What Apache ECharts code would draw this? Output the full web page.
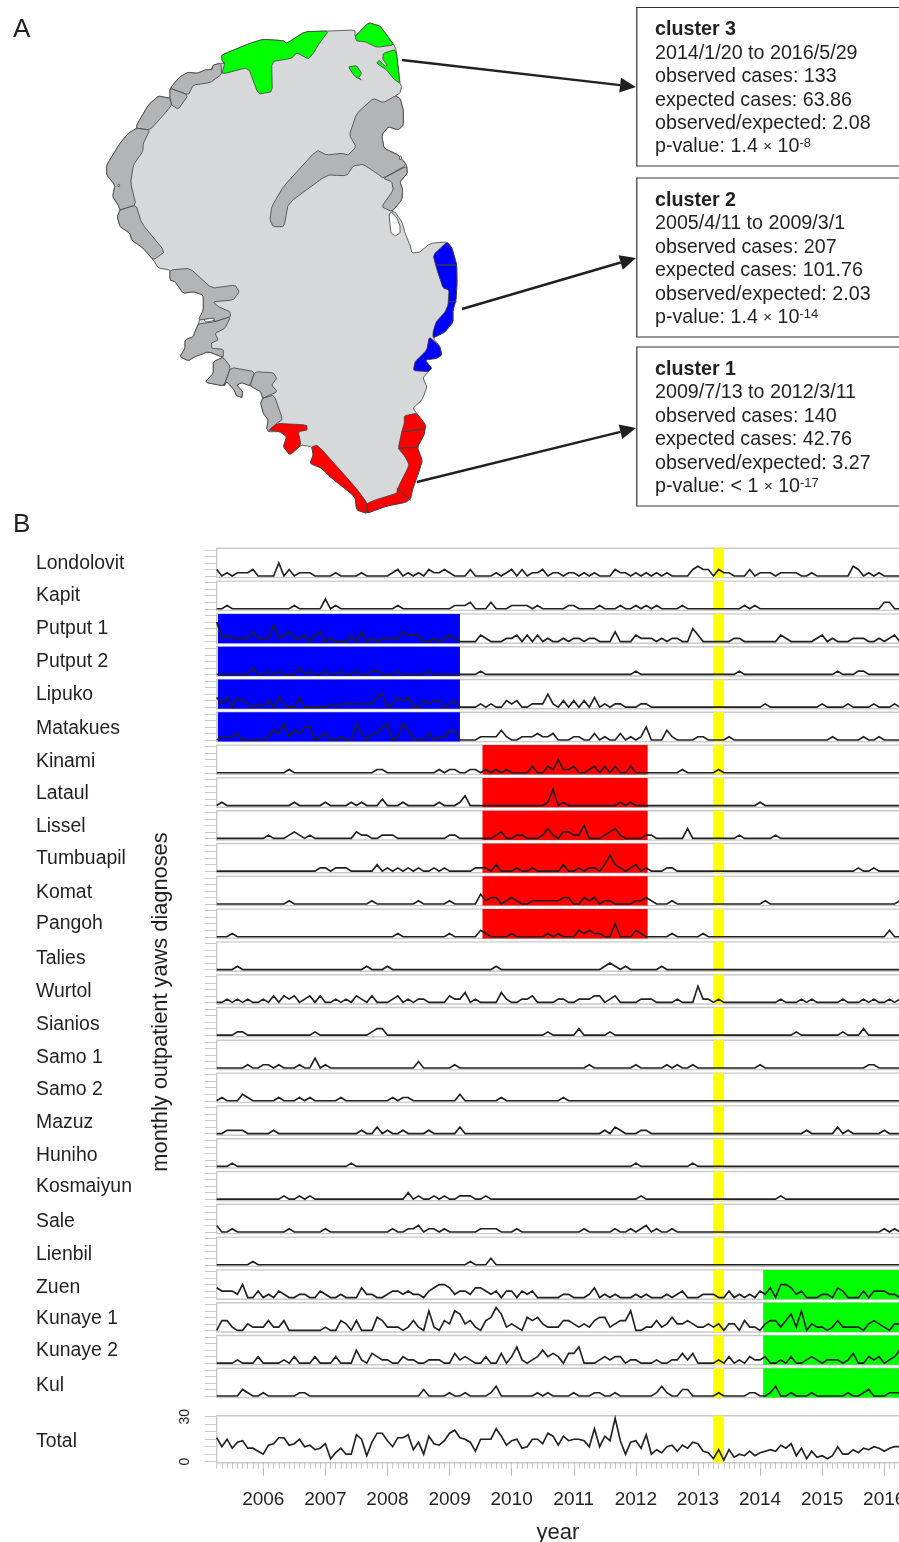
<!DOCTYPE html>
<html>
<head>
<meta charset="utf-8">
<title>Yaws clusters</title>
<script src="https://cdn.jsdelivr.net/npm/echarts@6/dist/echarts.min.js"></script>
<style>
  html, body { margin: 0; padding: 0; background: #fff; overflow: hidden; width: 899px; height: 1542px; }
  /* the figure runs past the right edge of the page, the panels get cut off there */
  #chart { width: 960px; height: 1542px; }
</style>
</head>
<body>
<div id="chart"></div>
<script>
// village names, top to bottom
var villages = ["Londolovit", "Kapit", "Putput 1", "Putput 2", "Lipuko", "Matakues", "Kinami", "Lataul", "Lissel", "Tumbuapil", "Komat", "Pangoh", "Talies", "Wurtol", "Sianios", "Samo 1", "Samo 2", "Mazuz", "Huniho", "Kosmaiyun", "Sale", "Lienbil", "Zuen", "Kunaye 1", "Kunaye 2", "Kul"];
var yearTicks = [2006, 2007, 2008, 2009, 2010, 2011, 2012, 2013, 2014, 2015, 2016];
var firstMonth = 2005.25;
var monthCount = 134;

// monthly diagnoses: [month index, cases], months left out are zero
var londolovit = [[0,2],[2,1],[4,1],[5,1],[6,1],[7,2],[12,4],[14,2],[16,1],[17,1],[18,1],[23,1],[28,1],[34,1],[35,2],[37,1],[39,1],[41,2],[42,1],[43,1],[44,2],[45,1],[49,2],[54,1],[56,1],[57,2],[59,2],[61,1],[62,1],[63,2],[65,1],[66,1],[68,1],[69,1],[71,1],[73,1],[77,2],[78,1],[79,1],[81,1],[83,1],[85,1],[87,1],[92,2],[93,3],[94,2],[95,2],[97,2],[98,1],[99,1],[103,2],[105,1],[106,1],[107,1],[109,1],[110,1],[111,1],[112,1],[115,1],[123,3],[124,2],[126,1],[128,1]];
var kapit = [[2,1],[15,1],[21,3],[23,1],[35,1],[46,1],[47,1],[48,1],[49,2],[53,2],[57,1],[58,1],[59,1],[60,1],[62,1],[68,1],[69,1],[74,1],[78,1],[81,1],[83,1],[85,1],[90,1],[102,1],[104,1],[129,2],[130,2]];
var putput1 = [[0,6],[1,1],[2,2],[3,1],[4,1],[5,1],[6,1],[7,3],[8,1],[9,1],[10,1],[11,5],[12,1],[13,2],[14,3],[15,1],[16,1],[17,2],[19,2],[20,3],[22,1],[26,2],[28,3],[30,1],[32,1],[33,1],[34,1],[35,1],[36,3],[37,2],[38,2],[39,2],[42,1],[44,1],[45,2],[46,1],[51,2],[52,1],[56,1],[57,1],[58,2],[60,2],[62,2],[64,1],[67,1],[69,1],[70,1],[72,1],[73,1],[77,3],[81,2],[82,1],[83,1],[84,1],[86,1],[88,1],[89,1],[92,4],[93,2],[100,1],[101,1],[109,2],[110,1],[116,1],[117,2],[119,1],[123,1],[124,1],[125,1],[128,1],[130,1],[131,2]];
var putput2 = [[7,2],[10,1],[12,1],[16,2],[18,1],[21,1],[24,1],[27,1],[30,1],[31,1],[35,1],[41,1],[51,1],[81,1],[101,1],[120,1],[124,1],[125,1]];
var lipuko = [[0,3],[1,1],[2,3],[4,3],[5,2],[6,1],[8,1],[10,2],[12,3],[13,1],[16,3],[22,1],[24,1],[25,1],[26,1],[27,1],[28,1],[29,1],[30,1],[31,3],[32,4],[34,1],[35,3],[36,2],[37,3],[40,2],[41,1],[42,2],[43,2],[45,1],[46,2],[51,1],[53,1],[56,2],[57,1],[58,2],[61,1],[62,1],[63,1],[64,4],[65,1],[67,2],[69,2],[71,2],[73,3],[75,1],[77,1],[78,1],[82,1],[83,1],[106,1],[117,1],[122,1],[127,1],[131,1]];
var matakues = [[1,1],[2,1],[3,1],[4,2],[10,1],[11,3],[12,2],[13,5],[14,1],[15,3],[16,2],[17,4],[18,4],[20,1],[21,2],[24,1],[27,5],[28,2],[30,2],[31,2],[32,4],[33,5],[35,1],[36,5],[37,3],[41,2],[43,1],[44,1],[45,3],[46,3],[51,1],[52,1],[53,1],[54,1],[55,3],[56,1],[59,1],[60,1],[61,1],[62,2],[63,1],[64,1],[65,2],[69,1],[70,1],[73,2],[75,1],[78,2],[80,1],[82,1],[83,4],[87,3],[88,1],[93,1],[94,1],[99,1],[119,1],[125,1],[128,1]];
var kinami = [[14,1],[31,1],[32,1],[43,1],[45,1],[46,1],[49,1],[50,1],[52,1],[54,1],[56,1],[61,2],[64,2],[65,1],[66,4],[67,1],[68,1],[69,2],[72,1],[73,2],[75,2],[77,2],[80,2],[90,1],[97,1]];
var lataul = [[1,1],[15,1],[21,1],[26,1],[28,1],[32,2],[36,1],[43,1],[47,1],[48,3],[64,1],[65,5],[67,1],[78,1],[80,1],[105,1]];
var lissel = [[10,1],[14,1],[15,2],[16,1],[18,1],[27,2],[28,1],[29,1],[32,1],[33,1],[34,1],[45,1],[46,1],[54,1],[55,2],[58,1],[59,1],[63,1],[64,3],[65,1],[67,2],[68,2],[69,1],[70,1],[71,4],[75,1],[76,2],[77,3],[78,1],[83,1],[84,1],[91,3],[101,1],[108,1]];
var tumbuapil = [[20,1],[21,1],[23,1],[24,1],[25,1],[31,2],[33,1],[35,1],[37,1],[39,1],[42,1],[44,1],[50,1],[51,1],[52,1],[54,2],[58,1],[61,1],[67,2],[70,1],[72,1],[73,1],[75,2],[76,5],[77,2],[78,1],[80,1],[81,2],[83,1],[87,1],[88,1],[124,1],[127,1]];
var komat = [[14,1],[30,1],[39,1],[45,1],[51,3],[52,1],[53,2],[54,2],[56,1],[57,2],[58,1],[61,1],[62,1],[63,1],[64,1],[65,1],[66,1],[67,2],[68,2],[71,2],[72,1],[73,2],[75,1],[76,1],[81,1],[82,1],[83,2],[84,1],[88,1],[106,1],[132,1],[133,1]];
var pangoh = [[3,1],[35,1],[45,1],[51,2],[52,1],[57,1],[64,1],[66,1],[70,2],[71,1],[72,2],[73,1],[74,1],[77,4],[81,2],[82,1],[88,1],[94,1],[130,2]];
var talies = [[4,1],[29,1],[33,1],[54,1],[75,1],[76,2],[77,1],[79,1],[86,1]];
var wurtol = [[2,1],[4,1],[6,1],[9,1],[11,2],[13,2],[14,1],[15,2],[17,1],[18,2],[20,2],[23,1],[25,1],[27,2],[28,1],[30,2],[34,1],[35,2],[37,1],[39,1],[40,1],[45,2],[46,1],[47,1],[48,3],[50,1],[55,3],[56,1],[59,1],[60,1],[61,2],[66,1],[67,1],[70,1],[71,1],[72,1],[73,2],[74,2],[76,1],[77,2],[82,1],[83,1],[84,1],[89,1],[93,5],[94,1],[95,1],[97,1],[109,1],[113,1],[115,1],[121,1],[125,1],[127,1],[130,1],[132,1]];
var sianios = [[4,1],[5,1],[19,1],[30,1],[31,2],[32,2],[64,1],[70,2],[76,1],[112,1],[121,1],[125,2]];
var samo1 = [[6,1],[9,1],[10,1],[12,1],[16,1],[19,3],[21,1],[39,2],[46,1],[72,1],[81,1],[87,1],[89,1],[92,1],[105,1],[126,1],[127,1]];
var samo2 = [[1,1],[5,2],[6,1],[12,1],[16,1],[18,1],[24,1],[34,1],[36,1],[37,1],[47,2],[55,1],[67,1]];
var mazuz = [[2,1],[3,1],[4,1],[5,1],[11,1],[28,1],[31,2],[33,1],[36,1],[41,1],[47,2],[75,1],[77,2],[78,1],[82,1],[83,1],[114,1],[120,2],[122,1],[129,1]];
var huniho = [[3,1],[26,1],[81,1],[92,1]];
var kosmaiyun = [[13,1],[16,1],[18,1],[37,2],[39,1],[42,1],[44,1],[47,1],[48,1],[49,1],[52,1],[82,1],[109,1]];
var sale = [[0,2],[3,1],[14,1],[21,1],[34,1],[37,1],[38,1],[39,2],[41,1],[42,1],[44,1],[51,1],[52,1],[53,1],[54,1],[58,1],[71,1],[77,1],[80,1],[82,1],[83,2],[85,1],[88,1],[129,1],[131,1]];
var lienbil = [[7,1],[49,1],[53,2]];
var zuen = [[0,3],[1,2],[2,2],[3,2],[4,1],[5,4],[8,2],[10,1],[12,2],[13,1],[16,1],[17,1],[20,2],[21,1],[24,1],[28,3],[29,1],[30,1],[33,1],[34,2],[35,2],[36,1],[37,2],[38,1],[39,1],[41,2],[42,3],[43,4],[44,4],[45,3],[46,1],[47,2],[48,2],[49,1],[50,3],[51,3],[52,2],[53,1],[54,2],[56,2],[57,2],[59,2],[60,1],[61,2],[67,1],[68,1],[72,1],[73,3],[75,1],[77,1],[81,1],[83,1],[87,1],[89,1],[90,2],[94,1],[95,1],[96,1],[99,2],[101,1],[103,1],[105,2],[106,1],[107,3],[109,4],[110,4],[111,3],[112,1],[113,2],[117,1],[118,1],[120,3],[121,2],[125,2],[127,2],[128,2],[129,2],[130,1],[131,1]];
var kunaye1 = [[1,3],[2,3],[3,1],[6,2],[7,1],[8,1],[9,1],[10,3],[11,1],[12,1],[13,3],[21,1],[24,3],[25,2],[27,3],[31,4],[32,3],[33,1],[34,1],[35,1],[37,1],[38,3],[39,1],[41,6],[42,1],[44,3],[45,2],[46,6],[47,5],[48,2],[49,3],[50,1],[52,3],[53,4],[54,7],[55,5],[56,1],[57,2],[58,1],[60,4],[61,3],[62,4],[63,2],[64,1],[65,1],[66,1],[67,3],[68,3],[69,2],[70,1],[71,2],[72,1],[73,3],[74,4],[75,4],[76,1],[77,2],[78,3],[79,3],[80,6],[83,1],[84,1],[85,3],[86,1],[87,2],[88,4],[89,2],[90,2],[91,3],[92,2],[93,1],[94,1],[95,2],[96,1],[97,2],[99,2],[100,2],[102,3],[103,1],[104,1],[106,2],[107,3],[108,3],[109,1],[110,3],[111,5],[112,1],[113,6],[115,2],[116,1],[117,1],[119,1],[120,3],[121,1],[122,1],[123,1],[124,1],[126,2],[127,3],[128,2],[129,1],[131,2],[132,2],[133,2]];
var kunaye2 = [[4,1],[8,2],[13,1],[15,2],[19,2],[23,2],[27,4],[28,1],[30,3],[31,2],[32,1],[33,1],[36,2],[37,1],[38,1],[41,1],[42,1],[43,1],[46,3],[47,1],[48,2],[49,1],[52,2],[55,3],[57,2],[58,5],[59,1],[61,1],[62,2],[63,4],[64,2],[65,3],[66,2],[68,3],[69,3],[70,5],[74,1],[75,2],[76,1],[77,2],[78,2],[80,1],[81,1],[85,1],[88,1],[89,1],[90,3],[91,1],[92,3],[97,1],[99,2],[101,1],[103,2],[104,1],[105,1],[106,2],[109,1],[111,2],[114,1],[115,2],[116,1],[118,1],[119,1],[120,1],[122,1],[123,3],[126,2],[127,1],[128,2],[130,1],[131,2],[132,4],[133,4]];
var kul = [[5,2],[6,1],[9,1],[16,1],[17,1],[40,2],[45,1],[48,1],[53,1],[54,3],[62,1],[64,1],[69,1],[73,1],[74,1],[77,1],[85,1],[86,3],[87,1],[90,2],[91,2],[97,1],[103,1],[104,1],[107,1],[108,3],[111,1],[115,1],[122,1],[125,1],[126,2],[130,1],[131,1],[132,1],[133,1]];
var totalCases = [16,10,15,9,13,14,9,9,7,5,11,12,16,16,11,12,15,10,11,8,9,12,2,6,9,5,5,18,15,4,13,19,19,14,10,16,16,18,8,13,5,17,12,11,14,19,21,16,15,13,7,15,15,15,22,17,11,14,15,9,10,15,15,12,19,17,11,17,14,15,15,14,10,22,10,17,14,29,14,5,13,14,9,18,5,8,6,10,11,7,11,9,13,12,7,6,2,8,1,8,3,5,4,7,4,6,7,8,7,11,9,12,4,9,2,7,3,4,2,4,10,5,5,8,6,9,8,10,9,7,9,10,10,10];
var villageCases = [londolovit, kapit, putput1, putput2, lipuko, matakues, kinami, lataul, lissel, tumbuapil, komat, pangoh, talies, wurtol, sianios, samo1, samo2, mazuz, huniho, kosmaiyun, sale, lienbil, zuen, kunaye1, kunaye2, kul];

// cluster windows in decimal years
var cluster1Window = [2009.53, 2012.19];
var cluster2Window = [2005.27, 2009.167];
var cluster3Window = [2014.05, 2016.41];
var yellowWindow = [2013.246, 2013.42];

// cluster boxes text
var box3Lines = ["{b|cluster 3}", "2014/1/20 to 2016/5/29", "observed cases: 133", "expected cases: 63.86", "observed/expected: 2.08", "p-value: 1.4 {x|\u00d7} 10{sup|-8}"];
var box2Lines = ["{b|cluster 2}", "2005/4/11 to 2009/3/1", "observed cases: 207", "expected cases: 101.76", "observed/expected: 2.03", "p-value: 1.4 {x|\u00d7} 10{sup|-14}"];
var box1Lines = ["{b|cluster 1}", "2009/7/13 to 2012/3/11", "observed cases: 140", "expected cases: 42.76", "observed/expected: 3.27", "p-value: < 1 {x|\u00d7} 10{sup|-17}"];

// map outlines, traced in page pixels
var island = [[221.7,55],[250,43.3],[263.3,39.3],[283.3,40.7],[286.7,43.3],[305,31.7],[328.7,31],[355,30],[355,36.7],[368.3,22.7],[380,26],[386.7,35],[394,45],[396,49.3],[400,83.3],[401.7,86.7],[400,93],[395,96],[400,98.3],[403.3,110],[403.3,125],[398.3,130],[388.3,126.7],[381.7,135],[384,148.3],[398.3,155],[406.7,165],[407.3,173.3],[400,181.7],[402.7,190],[401.7,200],[391.7,211.7],[395,212],[402,222],[405,233],[410,245],[412,253],[420,252],[428,245],[433,243],[447,242],[452,248],[456.7,265],[457,283],[456,300],[453,310],[453,322],[445,332],[433,338],[440,346.7],[441.7,355],[436.7,358.3],[425,360],[431.7,368.3],[428.3,371.7],[423,378],[427,387],[422,400],[413,408],[416.7,413.3],[425.7,425],[424,435],[417.3,447.3],[422.3,460.7],[418.3,473.3],[412.3,490],[410.7,498.3],[405.7,502.3],[386.7,506],[366.7,513.3],[356.7,510],[355,496.7],[330,476.7],[321.7,468.3],[310,463.3],[313.3,455],[311.7,446.7],[301,445],[290,455],[283.3,446.7],[286.7,436.7],[280,431.7],[268.7,431.7],[266.7,428.3],[268.3,420],[263.3,413.3],[260.7,403.3],[262.7,398.3],[260.7,391.7],[250,385.7],[241.7,382.7],[236.7,385],[242.7,391.7],[241.7,398.3],[235.7,395],[234.3,390],[226.7,381.7],[224,386],[205,382.3],[213.3,373.3],[213.3,361.7],[223.3,357.3],[208.3,351.7],[195,356.7],[188.3,360.7],[180,356.7],[185,348.3],[185,340],[193.3,336.7],[195,331.7],[198.3,324],[203.3,310],[203.3,295],[193.3,291.7],[183.3,293.3],[175,281.7],[170,280],[170,270],[158.3,268],[153.3,260],[143.3,248.3],[131.7,240],[130,233.3],[120,226.7],[117.3,216.7],[120,210],[118.3,205],[112.7,196.7],[115,185],[106.7,175],[106.7,165],[120,143.3],[128.3,133.3],[136.7,128.3],[136.7,125],[148.3,105],[158.3,96],[170,98.3],[170,88.3],[180,76.7],[188.3,72.3],[197.3,73.3],[205,70],[211.7,70],[213.3,65],[221,63.3],[224.7,63.3],[221.7,60]];
var forests = [
  [[221,63.3],[213.3,65],[211.7,70],[205,70],[197.3,73.3],[188.3,72.3],[180,76.7],[170,88.3],[188.3,95],[193.3,85],[210,82.7],[221.7,74.3]],
  [[170,88.3],[188.3,95],[178.3,109.3],[171.7,105],[170,98.3]],
  [[170,98.3],[158.3,96],[148.3,105],[136.7,125],[136.7,128.3],[150,130],[165,113.3],[171.7,105]],
  [[136.7,128.3],[150,130],[143.3,143.3],[142.7,151.7],[133.3,165],[130.7,183.3],[136,205],[120,210],[118.3,205],[112.7,196.7],[115,185],[106.7,175],[106.7,165],[120,143.3],[128.3,133.3]],
  [[120,210],[136,205],[141.7,223.3],[165,251.7],[153.3,260],[143.3,248.3],[131.7,240],[130,233.3],[120,226.7],[117.3,216.7]],
  [[170,270],[190,268.3],[211.7,288.3],[235,285],[239.3,291.7],[233.3,300],[213.3,301.7],[218.3,306.7],[230,311.7],[230.7,316.7],[215,321.7],[213.3,318.3],[198.3,320],[203.3,310],[203.3,295],[193.3,291.7],[183.3,293.3],[175,281.7],[170,280]],
  [[215,321.7],[230.7,316.7],[225,328.3],[215,333.3],[218.3,340],[210.7,343.3],[211.7,348.3],[223.3,349.3],[223.3,357.3],[208.3,351.7],[195,356.7],[188.3,360.7],[180,356.7],[185,348.3],[185,340],[193.3,336.7],[195,331.7],[198.3,324]],
  [[223.3,357.3],[230.7,367.3],[224,386],[205,382.3],[213.3,373.3],[213.3,361.7]],
  [[230.7,367.3],[255,371.7],[250,385.7],[241.7,382.7],[236.7,385],[242.7,391.7],[241.7,398.3],[235.7,395],[234.3,390],[226.7,381.7],[224,386]],
  [[255,371.7],[273.3,372.7],[276.7,378.3],[271.7,385],[277.3,391.7],[262.7,398.3],[260.7,391.7],[250,385.7]],
  [[262.7,398.3],[274,395],[282.7,419.3],[276.7,423.3],[268.7,431.7],[266.7,428.3],[268.3,420],[263.3,413.3],[260.7,403.3]],
  [[373.3,98.3],[383.3,102.7],[395,96],[400,98.3],[403.3,110],[403.3,125],[398.3,130],[388.3,126.7],[381.7,135],[384,148.3],[398.3,155],[406.7,165],[383.3,178.3],[376.7,173.3],[363.3,164.3],[353.3,166],[346.7,175.7],[326.7,175],[288.3,203.3],[284,226.7],[273.3,226.7],[270,220],[271.7,206.7],[283.3,186.7],[316.7,150],[326.7,155],[341.7,153.3],[348.3,155],[356,146.7],[349.3,135],[356.7,113.3]],
  [[383.3,178.3],[406.7,166],[407.3,173.3],[400,181.7],[402.7,190],[401.7,200],[391.7,211.7],[381.7,206.7],[393.3,190],[391.7,181.7]]
];
var greenAreas = [
  [[221.7,55],[250,43.3],[263.3,39.3],[283.3,40.7],[286.7,43.3],[305,31.7],[328.7,31],[319.3,43.3],[313.3,53.3],[308.3,59],[296.7,52.7],[291.7,58.3],[271.7,61.7],[272.3,91.7],[258.3,94.3],[248.3,67.3],[221.7,74.3],[224.7,63.3],[221.7,60]],
  [[355,36.7],[368.3,22.7],[380,26],[386.7,35],[394,45],[376.7,47.3],[365,41.7],[356.7,41]],
  [[383.3,53.3],[396,49.3],[400,83.3],[394,79.3],[386.7,70],[376.7,63.3],[379.3,60],[385,66],[387.7,65],[382.7,59.3]],
  [[348.3,66.7],[356.7,65.7],[361.7,73.3],[358.3,78.3],[361.7,80],[355,76.7]]
];
var blueAreas = [
  [[433,255],[447,242],[452,248],[456.7,265],[457,283],[456,300],[453,310],[453,322],[445,332],[433,338],[433,332],[436,322],[445,312],[448,305],[449,290],[443,288],[437,270]],
  [[429.3,336.7],[440,346.7],[441.7,355],[436.7,358.3],[425,360],[431.7,368.3],[428.3,371.7],[413.3,370.7],[415,361.7],[426.7,350]]
];
var redAreas = [
  [[404.3,415.7],[416.7,413.3],[425.7,425],[424,435],[417.3,447.3],[422.3,460.7],[418.3,473.3],[412.3,490],[410.7,498.3],[405.7,502.3],[386.7,506],[366.7,513.3],[367.3,503.3],[375,500],[396.7,493.3],[397.7,488.3],[409.3,465],[405,456.7],[398.3,448.3],[401.7,431.7],[404.3,423.3]],
  [[311.7,446.7],[317.7,445],[355,486.7],[367.3,503.3],[366.7,513.3],[356.7,510],[355,496.7],[330,476.7],[321.7,468.3],[310,463.3],[313.3,455]],
  [[268.7,430],[277.3,423.3],[306.7,425],[307.3,430],[298.3,431.7],[301,445],[290,455],[283.3,446.7],[286.7,436.7],[280,431.7]]
];
var dividers = [
  [[403,431.7],[425,429]], [[398.3,448.3],[417.3,447.3]], [[396.7,488.3],[410.7,500]], [[367.3,503.3],[367,513]],
  [[436.7,265],[456.7,265]], [[448.5,301.7],[456.5,301.7]]
];
var inlets = [
  [[389,214],[392,212],[397,218],[400,226],[400,233],[395,236],[391,233],[390,224]],
  [[400,156],[402,157],[400.5,160],[399,159]],
  [[118.5,184],[120,185],[119,187],[117.5,186]],
  [[204,319.5],[214,318],[214,321],[206,322]]
];

var INK = "#231f20";
var AXIS_GREY = "#cacaca";
var PANEL_LEFT = 216.7;
var PANEL_WIDTH = 698.6;
var X_MIN = 2005.25;
var X_MAX = 2016.5;

var monthX = [];
for (var m = 0; m < monthCount; m++) {
  monthX.push(firstMonth + m / 12);
}

function fullSeries(pairs) {
  var out = monthX.map(function() { return 0; });
  pairs.forEach(function(p) { out[p[0]] = p[1]; });
  return out;
}

function band(win, color) {
  return [{ xAxis: win[0], itemStyle: { color: color, opacity: 1 } }, { xAxis: win[1] }];
}

var grids = [], xAxes = [], yAxes = [], series = [];

function addPanel(name, values, top, height, yMin, yMax, ticks, bands, isTotal) {
  var idx = grids.length;
  grids.push({
    left: PANEL_LEFT, top: top, width: PANEL_WIDTH, height: height,
    show: true, borderColor: AXIS_GREY, borderWidth: 1.4, backgroundColor: "transparent"
  });
  xAxes.push({
    type: "value", gridIndex: idx, min: X_MIN, max: X_MAX, position: "bottom",
    axisLine: { show: false, onZero: false },
    splitLine: { show: false },
    axisTick: isTotal ? { show: true, length: 13, customValues: yearTicks, lineStyle: { color: "#b8b8b8", width: 1 } } : { show: false },
    axisLabel: isTotal ? { show: true, customValues: yearTicks, margin: 28, fontFamily: "Liberation Sans", fontSize: 19, color: INK, formatter: function(v) { return String(v); } } : { show: false }
  });
  yAxes.push({
    type: "value", gridIndex: idx, min: yMin, max: yMax,
    axisLine: { show: false, onZero: false },
    splitLine: { show: false },
    axisTick: { show: true, length: 12, customValues: ticks, lineStyle: { color: AXIS_GREY, width: 1 } },
    axisLabel: isTotal ? { show: true, customValues: [0, 30], rotate: 90, margin: 25, fontFamily: "Liberation Sans", fontSize: 14, color: INK } : { show: false }
  });
  series.push({
    type: "line", name: name, xAxisIndex: idx, yAxisIndex: idx,
    data: values.map(function(v, i) { return [monthX[i], v]; }),
    showSymbol: false, silent: true, animation: false,
    lineStyle: { color: INK, width: 1.65, join: "miter" },
    markArea: { silent: true, animation: false, data: bands }
  });
}

villages.forEach(function(name, i) {
  var bands = [band(yellowWindow, "#ffff00")];
  if (i >= 2 && i <= 5) bands.push(band(cluster2Window, "#0000ff"));
  if (i >= 6 && i <= 11) bands.push(band(cluster1Window, "#ff0000"));
  if (i >= 22) bands.push(band(cluster3Window, "#00ff00"));
  addPanel(name, fullSeries(villageCases[i]), 548.3 + 32.8 * i, 29.3, -0.5, 8.5, [0, 2, 4, 6, 8], bands, false);
});
addPanel("Total", totalCases, 1415.7, 47, -0.67, 30.67, [0, 5, 10, 15, 20, 25, 30], [band(yellowWindow, "#ffff00")], true);

// monthly small ticks under the total panel
xAxes.push({
  type: "value", gridIndex: grids.length - 1, min: X_MIN, max: X_MAX, position: "bottom",
  axisLine: { show: false, onZero: false }, splitLine: { show: false },
  axisTick: { show: true, length: 6, customValues: monthX, lineStyle: { color: "#c8c8c8", width: 1 } },
  axisLabel: { show: false }
});

// one pass of corner cutting, the coast is not as angular as the traced points
function soften(ring) {
  var out = [];
  ring.forEach(function(p, i) {
    var q = ring[(i + 1) % ring.length];
    out.push([p[0] * 0.88 + q[0] * 0.12, p[1] * 0.88 + q[1] * 0.12]);
    out.push([p[0] * 0.12 + q[0] * 0.88, p[1] * 0.12 + q[1] * 0.88]);
  });
  return out;
}

// map regions, y is flipped because geoJSON latitude points up
function feature(name, ring) {
  var coords = ring.map(function(p) { return [p[0], -p[1]]; });
  coords.push(coords[0]);
  return { type: "Feature", properties: { name: name }, geometry: { type: "Polygon", coordinates: [coords] } };
}
var features = [], regions = [];
function addRegions(prefix, rings, color, smooth) {
  rings.forEach(function(ring, i) {
    var name = prefix + i;
    features.push(feature(name, smooth ? soften(ring) : ring));
    regions.push({ name: name, itemStyle: { areaColor: color, borderColor: "#404040", borderWidth: 0.8 } });
  });
}
addRegions("island", [island], "#d7d8da", true);
addRegions("forest", forests, "#b3b4b6", true);
addRegions("green", greenAreas, "#00ff00", true);
addRegions("blue", blueAreas, "#0000ff", true);
addRegions("red", redAreas, "#ff0000", true);
addRegions("inlet", inlets, "#ffffff", true);
addRegions("divider", dividers, "#333333", false);
echarts.registerMap("island", { type: "FeatureCollection", features: features });

// page texts and cluster boxes
var graphics = [];
function addText(text, x, y, size) {
  graphics.push({
    type: "text", x: x, y: y, silent: true,
    style: { text: text, fontFamily: "Liberation Sans", fontSize: size, fill: INK, verticalAlign: "middle" }
  });
}
addText("A", 13, 30, 26);
addText("B", 13, 525, 26);

var labelY = [564, 596, 629, 662, 695, 729, 762, 794, 827, 859, 893, 924, 959, 992, 1025, 1058, 1090, 1123, 1156, 1187, 1222, 1255, 1288, 1319, 1351, 1386];
villages.forEach(function(name, i) {
  addText(name, 36, labelY[i], 19.4);
});
addText("Total", 36, 1442, 19.4);
graphics.push({
  type: "text", x: 558, y: 1533, silent: true,
  style: { text: "year", fontFamily: "Liberation Sans", fontSize: 22, fill: INK, align: "center", verticalAlign: "middle" }
});
graphics.push({
  type: "text", x: 161, y: 1002, rotation: Math.PI / 2, silent: true,
  style: { text: "monthly outpatient yaws diagnoses", fontFamily: "Liberation Sans", fontSize: 21.8, fill: INK, align: "center", verticalAlign: "middle" }
});

function addBox(lines, top, height) {
  graphics.push({
    type: "rect", silent: true,
    shape: { x: 636.8, y: top, width: 300, height: height },
    style: { fill: "#fff", stroke: "#333", lineWidth: 1.2 }
  });
  lines.forEach(function(line, i) {
    graphics.push({
      type: "text", x: 655, y: top + 22.5 + i * 23.4, silent: true,
      style: {
        text: line, fontFamily: "Liberation Sans", fontSize: 19.7, fill: INK, verticalAlign: "middle",
        rich: {
          b: { fontFamily: "Liberation Sans", fontSize: 19.7, fontWeight: "bold", fill: INK },
          x: { fontFamily: "Liberation Sans", fontSize: 15, fill: INK },
          sup: { fontFamily: "Liberation Sans", fontSize: 13, fill: INK, verticalAlign: "top" }
        }
      }
    });
  });
}
addBox(box3Lines, 7.5, 158.5);
addBox(box2Lines, 178, 159);
addBox(box1Lines, 347, 159);

function addArrow(x1, y1, x2, y2) {
  var a = Math.atan2(y2 - y1, x2 - x1);
  var headLen = 16, headHalf = 7.5;
  var bx = x2 - headLen * Math.cos(a), by = y2 - headLen * Math.sin(a);
  graphics.push({
    type: "line", silent: true,
    shape: { x1: x1, y1: y1, x2: bx, y2: by },
    style: { stroke: INK, lineWidth: 2.4 }
  });
  graphics.push({
    type: "polygon", silent: true,
    shape: { points: [[x2, y2], [bx - headHalf * Math.sin(a), by + headHalf * Math.cos(a)], [bx + headHalf * Math.sin(a), by - headHalf * Math.cos(a)]] },
    style: { fill: INK }
  });
}
addArrow(402, 60, 636, 87);
addArrow(462, 309, 636, 258);
addArrow(417, 482, 636, 428);

var chart = echarts.init(document.getElementById("chart"), null, { renderer: "canvas" });
chart.setOption({
  animation: false,
  backgroundColor: "#fff",
  textStyle: { fontFamily: "Liberation Sans" },
  grid: grids,
  xAxis: xAxes,
  yAxis: yAxes,
  series: series,
  geo: {
    map: "island", silent: true, roam: false, aspectScale: 1,
    left: 90, top: 10, width: 380, height: 520,
    boundingCoords: [[90, -10], [470, -530]],
    label: { show: false },
    itemStyle: { areaColor: "#d7d8da", borderColor: "#404040", borderWidth: 0.8 },
    regions: regions
  },
  graphic: { elements: graphics }
});
window.addEventListener("resize", function() {
  chart.resize();
});
</script>
</body>
</html>
